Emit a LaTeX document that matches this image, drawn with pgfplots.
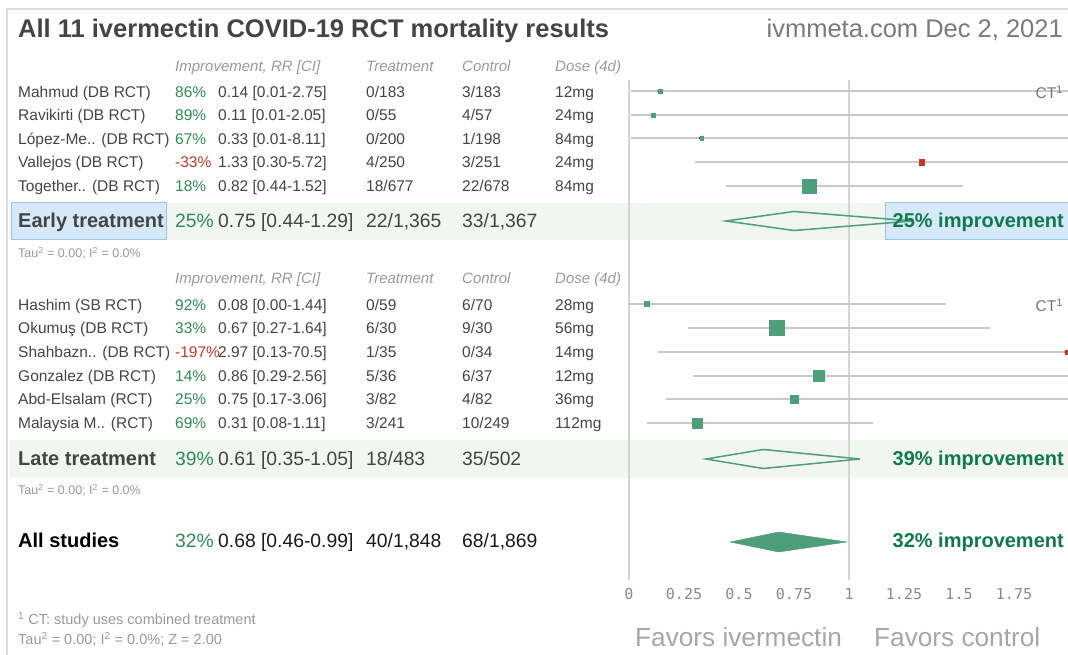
\documentclass[border=0pt]{standalone}
\usepackage{pgfplots}
\pgfplotsset{compat=1.18}
\usepackage{pgfplotstable}
\usepackage{fontspec}
\setmainfont{Liberation Sans}
\setmonofont{DejaVu Sans Mono}

\definecolor{tx}{HTML}{444444}
\definecolor{hdr}{HTML}{999999}
\definecolor{pctgreen}{HTML}{2E8B57}
\definecolor{pctred}{HTML}{C0392B}
\definecolor{mk}{HTML}{4E9E7C}
\definecolor{mkred}{HTML}{C0392B}
\definecolor{impgreen}{HTML}{0E7A4A}
\definecolor{band}{HTML}{F2F6F0}
\definecolor{selfill}{HTML}{D6E9FA}
\definecolor{seldraw}{HTML}{9CC3EC}
\definecolor{refline}{HTML}{D5D5D5}
\definecolor{cigray}{HTML}{C9C9C9}
\definecolor{tickgray}{HTML}{8A8A8A}
\definecolor{frame}{HTML}{DDDDDD}

% rows: y = position of the row (px from the top, negative), rr, CI, s = half side of the square
\pgfplotstableread{
y     rr    lo    hi    s
-91   0.14  0.01  2.75  1.9
-115  0.11  0.01  2.05  2.2
-138  0.33  0.01  8.11  1.8
-186  0.82  0.44  1.52  7.0
-304  0.08  0.00  1.44  2.5
-328  0.67  0.27  1.64  7.5
-376  0.86  0.29  2.56  5.5
-399  0.75  0.17  3.06  3.9
-423  0.31  0.08  1.11  4.8
}\greenrows
% Shahbazn.. (2.97 [0.13-70.5]) is drawn at the right edge of the scale
\pgfplotstableread{
y     rr    lo    hi    s
-162  1.33  0.30  5.72  2.8
-352  1.99  0.13  9.00  2.0
}\redrows

\tikzset{
  txt/.style={anchor=base west, inner sep=0pt, text=tx, font=\fontsize{15.5}{18}\selectfont},
  hd/.style={txt, text=hdr, font=\fontsize{15}{18}\selectfont\itshape},
  big/.style={txt, font=\fontsize{19.3}{22}\selectfont},
  sumlab/.style={txt, font=\fontsize{20}{22}\selectfont\bfseries},
  tau/.style={txt, text=hdr, font=\fontsize{12.5}{14}\selectfont},
  imp/.style={anchor=base east, inner sep=0pt, text=impgreen, font=\fontsize{20}{22}\selectfont\bfseries},
}

\newcommand{\studyrow}[8]{%
  \node[txt] at (18,#1) {#2};
  \node[txt,text=#4] at (175,#1) {#3};
  \node[txt] at (218,#1) {#5};
  \node[txt] at (366,#1) {#6};
  \node[txt] at (462,#1) {#7};
  \node[txt] at (555,#1) {#8};}

\begin{document}
\begin{tikzpicture}
\useasboundingbox (0,0) rectangle (1068pt,655pt);

% backgrounds
\begin{scope}[shift={(0,655pt)}, x=1pt, y=-1pt]
  \draw[frame, line width=2pt] (7,655) -- (7,9) -- (1068,9);
  \fill[band] (10,203) rectangle (1068,240);
  \fill[band] (10,440) rectangle (1068,478);
  \filldraw[fill=selfill, draw=seldraw, line width=1pt] (11,203) rectangle (166,240);
  \filldraw[fill=selfill, draw=seldraw, line width=1pt] (885,203) rectangle (1068,239.5);
\end{scope}

\begin{axis}[
    at={(0,0)}, anchor=south west,
    scale only axis, width=1068pt, height=655pt,
    xmin=-2.8591, xmax=1.9955, ymin=-655, ymax=0,
    axis line style={draw=none}, major tick length=0pt, tick style={draw=none},
    ytick=\empty,
    xtick={0,0.25,0.5,0.75,1,1.25,1.5,1.75},
    xticklabels={0,0.25,0.5,0.75,1,1.25,1.5,1.75},
    xticklabel style={anchor=base, yshift=55pt, font=\fontsize{15}{15}\ttfamily, text=tickgray},
    clip=true,
]
  \draw[refline, line width=1.5pt] (axis cs:0,-80) -- (axis cs:0,-580);
  \draw[refline, line width=1.5pt] (axis cs:1,-80) -- (axis cs:1,-580);

  % confidence intervals
  \addplot[only marks, mark=none,
    error bars/.cd, x dir=both, x explicit, error mark=none,
    error bar style={draw=cigray, line width=1.5pt}]
    table[x=rr, y=y, x error plus expr=\thisrow{hi}-\thisrow{rr},
          x error minus expr=\thisrow{rr}-\thisrow{lo}] {\greenrows};
  \addplot[only marks, mark=none,
    error bars/.cd, x dir=both, x explicit, error mark=none,
    error bar style={draw=cigray, line width=1.5pt}]
    table[x=rr, y=y, x error plus expr=\thisrow{hi}-\thisrow{rr},
          x error minus expr=\thisrow{rr}-\thisrow{lo}] {\redrows};

  % squares
  \addplot[scatter, only marks, mark=square*,
    scatter/use mapped color={draw=mk, fill=mk},
    visualization depends on={\thisrow{s} \as \sz},
    scatter/@pre marker code/.append style={/tikz/mark size=\sz pt}]
    table[x=rr, y=y] {\greenrows};
  \addplot[scatter, only marks, mark=square*,
    scatter/use mapped color={draw=mkred, fill=mkred},
    visualization depends on={\thisrow{s} \as \sz},
    scatter/@pre marker code/.append style={/tikz/mark size=\sz pt}]
    table[x=rr, y=y] {\redrows};

  % pooled estimates
  \addplot[draw=mk, line width=1.5pt, fill=none]
    coordinates {(0.44,-221) (0.75,-211.5) (1.29,-221) (0.75,-230.5)} -- cycle;
  \addplot[draw=mk, line width=1.5pt, fill=none]
    coordinates {(0.35,-459) (0.61,-449.5) (1.05,-459) (0.61,-468.5)} -- cycle;
  \addplot[draw=mk, fill=mk, line width=0.5pt]
    coordinates {(0.46,-542) (0.68,-532) (0.99,-542) (0.68,-552)} -- cycle;
\end{axis}

% text
\begin{scope}[shift={(0,655pt)}, x=1pt, y=-1pt]
  \node[txt, font=\fontsize{25.5}{28}\selectfont\bfseries] at (18,37.5)
    {All 11 ivermectin COVID-19 RCT mortality results};
  \node[anchor=base east, inner sep=0pt, text=black!52, font=\fontsize{25.5}{28}\selectfont]
    at (1063,37.5) {ivmmeta.com Dec 2, 2021};

  \node[hd] at (175,72) {Improvement, RR [CI]};
  \node[hd] at (366,72) {Treatment};
  \node[hd] at (462,72) {Control};
  \node[hd] at (555,72) {Dose (4d)};

  \studyrow{97.5}{Mahmud (DB RCT)}{86\%}{pctgreen}{0.14 [0.01-2.75]}{0/183}{3/183}{12mg}
  \studyrow{121}{Ravikirti (DB RCT)}{89\%}{pctgreen}{0.11 [0.01-2.05]}{0/55}{4/57}{24mg}
  \studyrow{144.5}{López-Me.. (DB RCT)}{67\%}{pctgreen}{0.33 [0.01-8.11]}{0/200}{1/198}{84mg}
  \studyrow{168}{Vallejos (DB RCT)}{-33\%}{pctred}{1.33 [0.30-5.72]}{4/250}{3/251}{24mg}
  \studyrow{191.5}{Together.. (DB RCT)}{18\%}{pctgreen}{0.82 [0.44-1.52]}{18/677}{22/678}{84mg}

  \node[sumlab] at (18,228) {Early treatment};
  \node[big, text=pctgreen] at (175,228) {25\%};
  \node[big] at (218,228) {0.75 [0.44-1.29]};
  \node[big] at (366,228) {22/1,365};
  \node[big] at (462,228) {33/1,367};
  \node[tau] at (18,257.5) {Tau\textsuperscript{2} = 0.00; I\textsuperscript{2} = 0.0\%};
  \node[imp] at (1064,228) {25\% improvement};

  \node[hd] at (175,283.5) {Improvement, RR [CI]};
  \node[hd] at (366,283.5) {Treatment};
  \node[hd] at (462,283.5) {Control};
  \node[hd] at (555,283.5) {Dose (4d)};

  \studyrow{310.5}{Hashim (SB RCT)}{92\%}{pctgreen}{0.08 [0.00-1.44]}{0/59}{6/70}{28mg}
  \studyrow{334}{Okumuş (DB RCT)}{33\%}{pctgreen}{0.67 [0.27-1.64]}{6/30}{9/30}{56mg}
  \studyrow{358}{Shahbazn.. (DB RCT)}{-197\%}{pctred}{2.97 [0.13-70.5]}{1/35}{0/34}{14mg}
  \studyrow{382}{Gonzalez (DB RCT)}{14\%}{pctgreen}{0.86 [0.29-2.56]}{5/36}{6/37}{12mg}
  \studyrow{405}{Abd-Elsalam (RCT)}{25\%}{pctgreen}{0.75 [0.17-3.06]}{3/82}{4/82}{36mg}
  \studyrow{429}{Malaysia M.. (RCT)}{69\%}{pctgreen}{0.31 [0.08-1.11]}{3/241}{10/249}{112mg}

  \node[sumlab] at (18,465.5) {Late treatment};
  \node[big, text=pctgreen] at (175,465.5) {39\%};
  \node[big] at (218,465.5) {0.61 [0.35-1.05]};
  \node[big] at (366,465.5) {18/483};
  \node[big] at (462,465.5) {35/502};
  \node[tau] at (18,494.5) {Tau\textsuperscript{2} = 0.00; I\textsuperscript{2} = 0.0\%};
  \node[imp] at (1064,465.5) {39\% improvement};

  \node[sumlab, text=black] at (18,547.5) {All studies};
  \node[big, text=pctgreen] at (175,547.5) {32\%};
  \node[big, text=black!90] at (218,547.5) {0.68 [0.46-0.99]};
  \node[big, text=black!90] at (366,547.5) {40/1,848};
  \node[big, text=black!90] at (462,547.5) {68/1,869};
  \node[imp] at (1064,547.5) {32\% improvement};

  \node[anchor=base east, inner sep=0pt, text=black!55, font=\fontsize{15.5}{18}\selectfont]
    at (1063,98.5) {CT\textsuperscript{1}};
  \node[anchor=base east, inner sep=0pt, text=black!55, font=\fontsize{15.5}{18}\selectfont]
    at (1063,311.5) {CT\textsuperscript{1}};

  \node[txt, text=hdr, font=\fontsize{14.5}{16}\selectfont] at (18,625)
    {\textsuperscript{1} CT: study uses combined treatment};
  \node[txt, text=hdr, font=\fontsize{14.5}{16}\selectfont] at (18,644.5)
    {Tau\textsuperscript{2} = 0.00; I\textsuperscript{2} = 0.0\%; Z = 2.00};

  \node[txt, text=black!35, font=\fontsize{26.2}{28}\selectfont] at (635,647) {Favors ivermectin};
  \node[txt, text=black!35, font=\fontsize{26.2}{28}\selectfont] at (874,647) {Favors control};
\end{scope}
\end{tikzpicture}
\end{document}
